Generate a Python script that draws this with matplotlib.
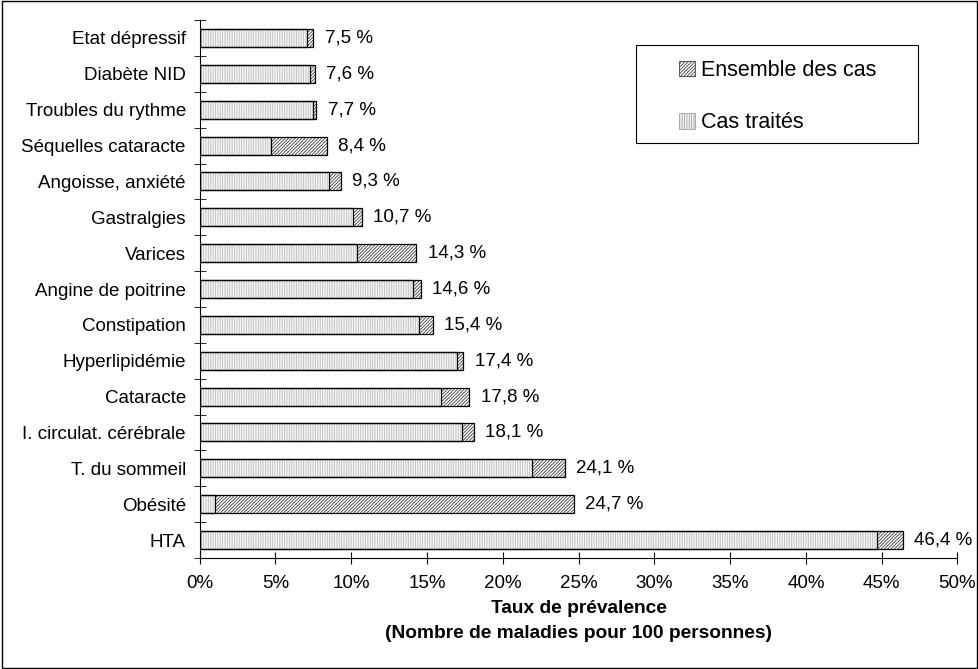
import matplotlib.pyplot as plt
from matplotlib.patches import Patch, Rectangle
import numpy as np

plt.rcParams['font.family'] = ['Liberation Sans', 'DejaVu Sans']
plt.rcParams['hatch.linewidth'] = 0.6

categories = ['Etat dépressif', 'Diabète NID', 'Troubles du rythme', 'Séquelles cataracte',
              'Angoisse, anxiété', 'Gastralgies', 'Varices', 'Angine de poitrine',
              'Constipation', 'Hyperlipidémie', 'Cataracte', 'I. circulat. cérébrale',
              'T. du sommeil', 'Obésité', 'HTA']
ensemble = [7.5, 7.6, 7.7, 8.4, 9.3, 10.7, 14.3, 14.6, 15.4, 17.4, 17.8, 18.1, 24.1, 24.7, 46.4]
traites = [7.1, 7.3, 7.5, 4.7, 8.5, 10.1, 10.4, 14.1, 14.5, 17.0, 15.9, 17.3, 21.9, 1.0, 44.7]
value_labels = ['7,5 %', '7,6 %', '7,7 %', '8,4 %', '9,3 %', '10,7 %', '14,3 %', '14,6 %',
                '15,4 %', '17,4 %', '17,8 %', '18,1 %', '24,1 %', '24,7 %', '46,4 %']

W, H = 979, 669
fig = plt.figure(figsize=(W / 100, H / 100), dpi=100)
ax = fig.add_axes([0.204, 0.166, 0.774, 0.804])

y = np.arange(len(categories))[::-1]
ens_hatch = '/' * 10
trt_hatch = '|' * 7

# hatched fills (hatch colour = edgecolor, so outlines drawn separately)
ax.barh(y, ensemble, height=0.5, color='white', edgecolor='#404040', hatch=ens_hatch, linewidth=0)
ax.barh(y, traites, height=0.5, color='#f4f4f4', edgecolor='#bdbdbd', hatch=trt_hatch, linewidth=0)
ax.barh(y, ensemble, height=0.5, fill=False, edgecolor='black', linewidth=0.9)
ax.barh(y, traites, height=0.5, fill=False, edgecolor='black', linewidth=0.9)

for yi, v, t in zip(y, ensemble, value_labels):
    ax.text(v + 0.75, yi, t, va='center', ha='left', fontsize=13.5)

ax.set_xlim(0, 50)
ax.set_ylim(-0.5, len(categories) - 0.5)
ax.set_xticks(np.arange(0, 51, 5))
ax.set_xticklabels([f'{v}%' for v in range(0, 51, 5)], fontsize=13.5)
ax.set_yticks(y)
ax.set_yticklabels(categories, fontsize=13.5)
ax.tick_params(axis='y', length=0, pad=10)
ax.set_yticks(np.arange(-0.5, len(categories), 1), minor=True)
ax.tick_params(axis='y', which='minor', direction='inout', length=8)
ax.tick_params(axis='x', direction='inout', length=8, pad=8)
ax.spines['top'].set_visible(False)
ax.spines['right'].set_visible(False)
ax.set_xlabel('Taux de prévalence\n(Nombre de maladies pour 100 personnes)',
              fontsize=13.8, fontweight='bold', labelpad=6, linespacing=1.65)

# legend box
fig.patches.append(Rectangle((636 / W, 1 - 143 / H), (918 - 636) / W, (143 - 45) / H,
                             transform=fig.transFigure, fill=False, edgecolor='black',
                             linewidth=0.8))
handles = [Patch(facecolor='white', edgecolor='#404040', hatch=ens_hatch, linewidth=0.6),
           Patch(facecolor='#f4f4f4', edgecolor='#a0a0a0', hatch=trt_hatch, linewidth=0.6)]
leg = fig.legend(handles, ['Ensemble des cas', 'Cas traités'], loc='upper left',
                 bbox_to_anchor=(679 / W, 1 - 60 / H), fontsize=15.5,
                 frameon=False, borderpad=0, labelspacing=1.45,
                 handlelength=0.75, handleheight=0.75, handletextpad=0.25,
                 borderaxespad=0)

fig.patches.append(Rectangle((0.002, 0.002), 0.996, 0.996, transform=fig.transFigure,
                             fill=False, edgecolor='black', linewidth=1))

fig.savefig('out.png', dpi=100)
